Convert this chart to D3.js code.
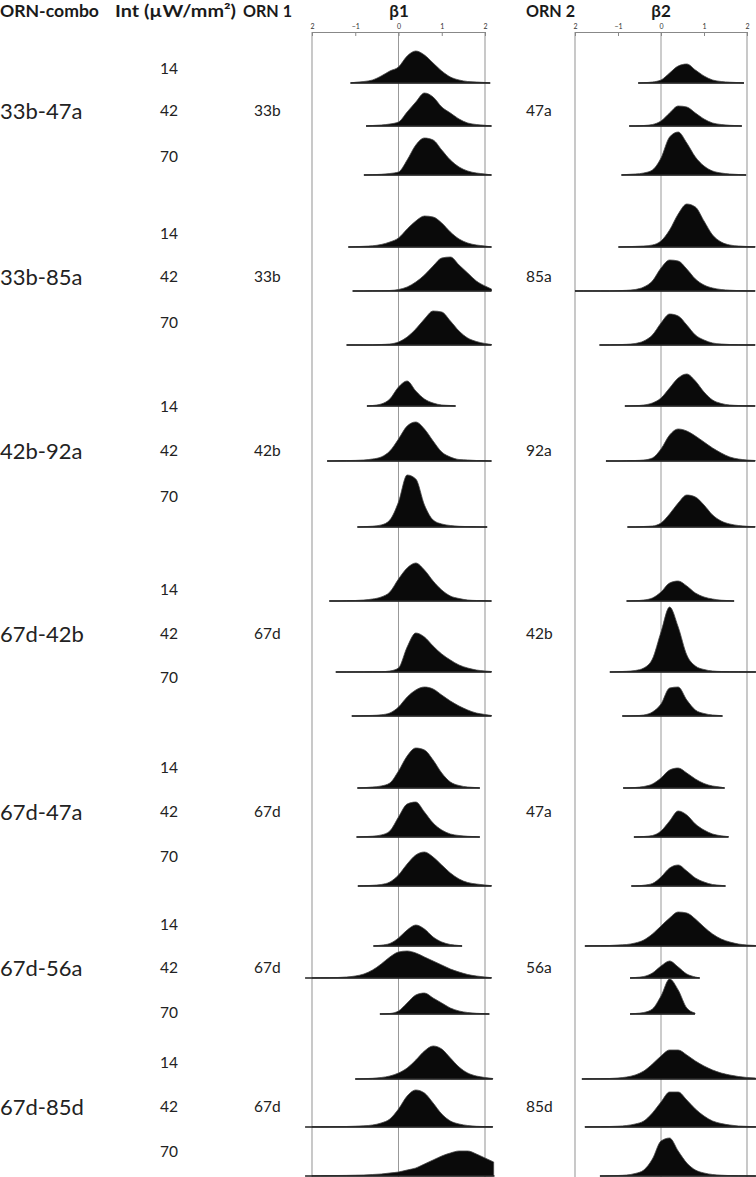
<!DOCTYPE html>
<html>
<head>
<meta charset="utf-8">
<script src="https://cdn.jsdelivr.net/npm/d3@7"></script>
<style>
  html, body { margin: 0; padding: 0; background: #fff; }
  svg { display: block; }
  text { font-family: Lato, "Noto Sans", sans-serif; fill: #222; }
</style>
</head>
<body>
<svg id="chart" width="756" height="1177"></svg>
<script>
// ---------------- DATA ----------------
const combos = ["33b-47a", "33b-85a", "42b-92a", "67d-42b", "67d-47a", "67d-56a", "67d-85d"];
const orn1 = ["33b", "33b", "42b", "67d", "67d", "67d", "67d"];
const orn2 = ["47a", "85a", "92a", "42b", "47a", "56a", "85d"];
const intensities = ["14", "42", "70"];
const axisTicks = [-2, -1, 0, 1, 2];
const axisTickLabels = ["2", "\u22121", "0", "1", "2"];
// histogram density grid (beta value at each sample point)
const gridX = [-2.0, -1.8, -1.6, -1.4, -1.2, -1.0, -0.8, -0.6, -0.4, -0.2, 0.0,
               0.2, 0.4, 0.6, 0.8, 1.0, 1.2, 1.4, 1.6, 1.8, 2.0, 2.2];

// beta1 posterior sample ranges [min, max], one per row (combo x intensity)
const beta1Range = [
  [-1.11, 2.12], [-0.75, 2.15], [-0.80, 2.15],
  [-1.16, 2.15], [-1.06, 2.15], [-1.20, 2.15],
  [-0.73, 1.32], [-1.65, 2.15], [-0.95, 2.05],
  [-1.60, 2.15], [-1.45, 2.15], [-1.08, 2.15],
  [-0.95, 1.88], [-0.97, 1.88], [-0.94, 2.15],
  [-0.58, 1.47], [-2.16, 2.15], [-0.43, 2.10],
  [-1.00, 2.18], [-2.16, 2.18], [-2.16, 2.22]
];
// beta1 histogram heights (counts) at gridX
const beta1Density = [
  [0,0,0,0,0,0.7,1.5,3,7,12,16,27,32,28,20,12,6,3,1.5,1,0.5,0],
  [0,0,0,0,0,0,0,0.5,1,2,4,14,24,33,29,19,13,7,3,1.5,0.7,0],
  [0,0,0,0,0,0,0,0.3,0.7,1.5,3,15,30,37,35,25,15,8,4,2,1,0],
  [0,0,0,0,0,0.3,0.7,1.2,2.5,5,9,18,26,31,30,24,15,8,4,2,1,0],
  [0,0,0,0,0,0,0,0.2,0.3,0.5,1.5,4,9,16,25,33,34,26,18,10,5,2],
  [0,0,0,0,0,0,0,0,0.5,1,3,8,16,26,34,33,24,14,7,3.5,1.5,0.5],
  [0,0,0,0,0,0,0,0.5,2,7,19,25,15,7,3,1,0.5,0,0,0,0,0],
  [0,0,0,0.2,0.4,0.6,1,2,4,10,22,35,39,32,20,9,4,1.5,1,0.5,0.3,0],
  [0,0,0,0,0,0,0.3,0.8,2,7,25,52,48,22,7,3,1.5,0.7,0.4,0.2,0,0],
  [0,0,0,0,0.3,0.5,1,2,4,9,22,33,38,31,20,11,5,2.5,1,0.5,0.3,0],
  [0,0,0,0,0,0.1,0.1,0.2,0.3,1,4,25,39,35,26,18,12,7,4,2,1,0.5],
  [0,0,0,0,0,0,0.3,0.6,1.2,3,9,19,26,29,27,21,15,10,6,3,1.5,0.5],
  [0,0,0,0,0,0,0.3,1,2,5,17,32,40,38,28,15,6,2.5,1,0.4,0,0],
  [0,0,0,0,0,0,0.3,0.8,2,6,20,33,35,25,14,7,3,1.5,0.7,0.3,0,0],
  [0,0,0,0,0,0,0.2,0.7,1.5,4,11,22,31,34,29,21,13,7,3.5,2,1,0.3],
  [0,0,0,0,0,0,0,0,0.8,2.5,8,16,21,17,9,4,1.5,0.5,0,0,0,0],
  [0.1,0.2,0.3,0.5,1,2,4,8,14,21,26,27,25,21,17,13,9,6,3.5,2,1,0.3],
  [0,0,0,0,0,0,0,0,0,0.5,3,11,19,21,16,11,6,3,1.5,0.7,0.3,0],
  [0,0,0,0,0,0,0.3,0.7,1.5,3,6,11,19,28,33,30,21,12,6,3,1.5,0.5],
  [0.2,0.2,0.3,0.4,0.5,0.8,1.2,2,4,8,18,31,37,34,24,13,6,3,1.5,0.7,0.4,0.2],
  [0.2,0.3,0.4,0.5,0.6,0.8,1,1.5,2,3,4,6,8,12,16,20,23,25,25,22,18,14]
];

// beta2 posterior sample ranges [min, max]
const beta2Range = [
  [-0.53, 1.93], [-0.74, 1.88], [-0.92, 1.98],
  [-0.99, 2.19], [-2.00, 2.19], [-1.43, 2.19],
  [-0.84, 2.19], [-1.28, 2.19], [-0.78, 2.19],
  [-0.80, 1.70], [-1.19, 2.22], [-0.90, 1.43],
  [-0.88, 1.48], [-0.63, 1.57], [-0.69, 1.50],
  [-1.77, 2.22], [-0.72, 0.90], [-0.72, 0.79],
  [-1.84, 2.22], [-1.77, 2.22], [-1.42, 2.22]
];
// beta2 histogram heights (counts) at gridX
const beta2Density = [
  [0,0,0,0,0,0,0,0,0.3,1,3,10,17,19,13,7,3,1.5,0.8,0.4,0,0],
  [0,0,0,0,0,0,0,0,0.5,1.5,5,13,20,19,13,7,3,1.5,0.7,0.3,0,0],
  [0,0,0,0,0,0,0.5,1,2,5,17,38,43,32,18,9,4,2,1,0.5,0,0],
  [0,0,0,0,0,0,0.3,0.6,1,2,6,17,33,43,40,26,12,5,2,1,0.5,0.2],
  [0.1,0.1,0.1,0.1,0.1,0.3,0.7,1.5,4,10,23,31,30,22,12,6,3,1.5,0.8,0.4,0.2,0.1],
  [0,0,0,0,0.1,0.3,0.7,1.5,4,10,22,31,29,20,10,5,2,1,0.5,0.3,0.1,0.1],
  [0,0,0,0,0,0,0,0.3,1,3,8,18,28,32,25,14,6,2.5,1,0.5,0.2,0.1],
  [0,0,0,0,0,0,0.3,0.5,1,3,12,26,32,30,25,19,13,8,4,2,1,0.5],
  [0,0,0,0,0,0,0,0,0.5,1,4,13,24,32,30,22,12,6,3,1.5,0.7,0.3],
  [0,0,0,0,0,0,0,0.3,1,3,9,18,20,15,8,4,2,0.8,0.3,0,0,0],
  [0,0,0,0,0,0.3,0.7,1.5,4,13,40,65,45,17,6,2.5,1,0.5,0.3,0.2,0.1,0.1],
  [0,0,0,0,0,0,0,0.3,1,4,12,28,29,16,6,2.5,1,0.3,0,0,0,0],
  [0,0,0,0,0,0,0,0.5,1.5,4,10,18,20,15,9,4.5,2,0.8,0,0,0,0],
  [0,0,0,0,0,0,0,0,0.5,1.5,6,16,26,22,13,7,3,1.2,0.3,0,0,0],
  [0,0,0,0,0,0,0,0,0.8,2.5,9,18,21,15,8,4,1.5,0.6,0,0,0,0],
  [0,0,0.2,0.3,0.5,1,1.5,3,6,12,20,28,34,33,27,19,12,7,4,2,1,0.5],
  [0,0,0,0,0,0,0,0.5,1.5,5,12,17,11,4,1,0,0,0,0,0,0,0],
  [0,0,0,0,0,0,0,0.5,1.5,5,18,35,24,6,1,0,0,0,0,0,0,0],
  [0,0.1,0.2,0.3,0.5,1,2,4,8,15,23,29,29,24,18,13,9,6,4,2.5,1.5,1],
  [0,0.1,0.2,0.3,0.5,0.8,1.5,3,6,14,25,35,35,27,18,11,6,3.5,2,1,0.6,0.3],
  [0,0,0,0,0.2,0.5,1,2.5,6,17,35,38,25,13,6,3,1.5,0.8,0.4,0.2,0.1,0]
];

// ---------------- LAYOUT ----------------
const W = 756, H = 1177;
const rowBaseline = [83, 126, 175, 247, 291, 345, 406, 461, 527, 601, 672, 716,
                     788, 837, 886, 946, 978, 1014, 1079, 1127, 1176];
const rowLabelY = [69, 111, 157, 234, 277, 323, 407, 451, 497, 590, 634, 678,
                   768, 812, 857, 925, 968, 1013, 1063, 1107, 1152];
const axisY = 32;

const svg = d3.select("#chart");
svg.append("rect").attr("width", W).attr("height", H).attr("fill", "#fff");

const x1 = d3.scaleLinear().domain([-2, 2]).range([312, 485]);
const x2 = d3.scaleLinear().domain([-2, 2]).range([575, 747]);
const yH = d3.scaleLinear().domain([0, 100]).range([0, 100]);

// headers
const headers = [
  {t: "ORN-combo", x: 0, a: "start", w: 99},
  {t: "Int (\u00B5W/mm\u00B2)", x: 115, a: "start", w: 121},
  {t: "ORN 1", x: 243, a: "start", w: 49},
  {t: "\u03B21", x: 399, a: "middle", w: 0},
  {t: "ORN 2", x: 526, a: "start", w: 49},
  {t: "\u03B22", x: 661, a: "middle", w: 0}
];
svg.selectAll("text.hdr").data(headers).join("text")
  .attr("class", "hdr")
  .attr("x", d => d.x).attr("y", 17)
  .attr("text-anchor", d => d.a)
  .attr("textLength", d => d.w || null)
  .attr("lengthAdjust", "spacingAndGlyphs")
  .style("font-size", "17px").style("font-weight", "bold").style("fill", "#1a1a1a")
  .text(d => d.t);

// panels
function drawPanel(xs, ranges, dens) {
  const g = svg.append("g");
  // vertical reference lines
  g.selectAll("line.v").data(axisTicks.filter(t => t !== -1 && t !== 1)).join("line")
    .attr("x1", d => xs(d)).attr("x2", d => xs(d))
    .attr("y1", axisY).attr("y2", H)
    .attr("stroke", d => d === 0 ? "#999" : "#bbb")
    .attr("stroke-width", d => d === 0 ? 1 : 1.6);
  // top axis
  const ax = d3.axisTop(xs).tickValues(axisTicks)
    .tickFormat((d, i) => axisTickLabels[i])
    .tickSizeInner(-4).tickSizeOuter(0).tickPadding(3);
  const axg = g.append("g").attr("transform", `translate(0,${axisY})`).call(ax);
  axg.select(".domain").attr("stroke", "#888").attr("stroke-width", 1.2);
  axg.selectAll(".tick line").attr("stroke", "#888");
  axg.selectAll(".tick text").style("font-size", "7px").style("fill", "#333")
    .attr("font-family", "Lato, sans-serif");

  // distributions
  dens.forEach((vals, i) => {
    const base = rowBaseline[i];
    const [lo, hi] = ranges[i];
    const pts = gridX.map((gx, k) => [gx, vals[k]])
      .filter(p => p[0] >= lo - 0.2 && p[0] <= hi + 0.2)
      .map(p => [Math.min(Math.max(p[0], lo), hi), p[1]]);
    const area = d3.area()
      .x(d => xs(d[0]))
      .y0(base)
      .y1(d => base - yH(d[1]))
      .curve(d3.curveMonotoneX);
    g.append("path").datum(pts).attr("d", area)
      .attr("fill", "#0a0a0a").attr("stroke", "#444").attr("stroke-width", 0.8);
    g.append("line")
      .attr("x1", xs(lo)).attr("x2", xs(hi))
      .attr("y1", base).attr("y2", base)
      .attr("stroke", "#222").attr("stroke-width", 1.3);
  });
}
drawPanel(x1, beta1Range, beta1Density);
drawPanel(x2, beta2Range, beta2Density);

// row labels
const rows = d3.range(combos.length * 3).map(i => ({
  ci: Math.floor(i / 3), ii: i % 3, y: rowLabelY[i]
}));
svg.selectAll("text.int").data(rows).join("text")
  .attr("class", "int")
  .attr("x", 160).attr("y", d => d.y).attr("dy", "0.35em")
  .style("font-size", "15.5px")
  .text(d => intensities[d.ii]);

const mid = rows.filter(d => d.ii === 1);
svg.selectAll("text.combo").data(mid).join("text")
  .attr("class", "combo")
  .attr("x", 0).attr("y", d => d.y).attr("dy", "0.35em")
  .style("font-size", "22px")
  .text(d => combos[d.ci]);
svg.selectAll("text.o1").data(mid).join("text")
  .attr("class", "o1")
  .attr("x", 254).attr("y", d => d.y).attr("dy", "0.35em")
  .style("font-size", "15.5px")
  .text(d => orn1[d.ci]);
svg.selectAll("text.o2").data(mid).join("text")
  .attr("class", "o2")
  .attr("x", 526).attr("y", d => d.y).attr("dy", "0.35em")
  .style("font-size", "15.5px")
  .text(d => orn2[d.ci]);
</script>
</body>
</html>
